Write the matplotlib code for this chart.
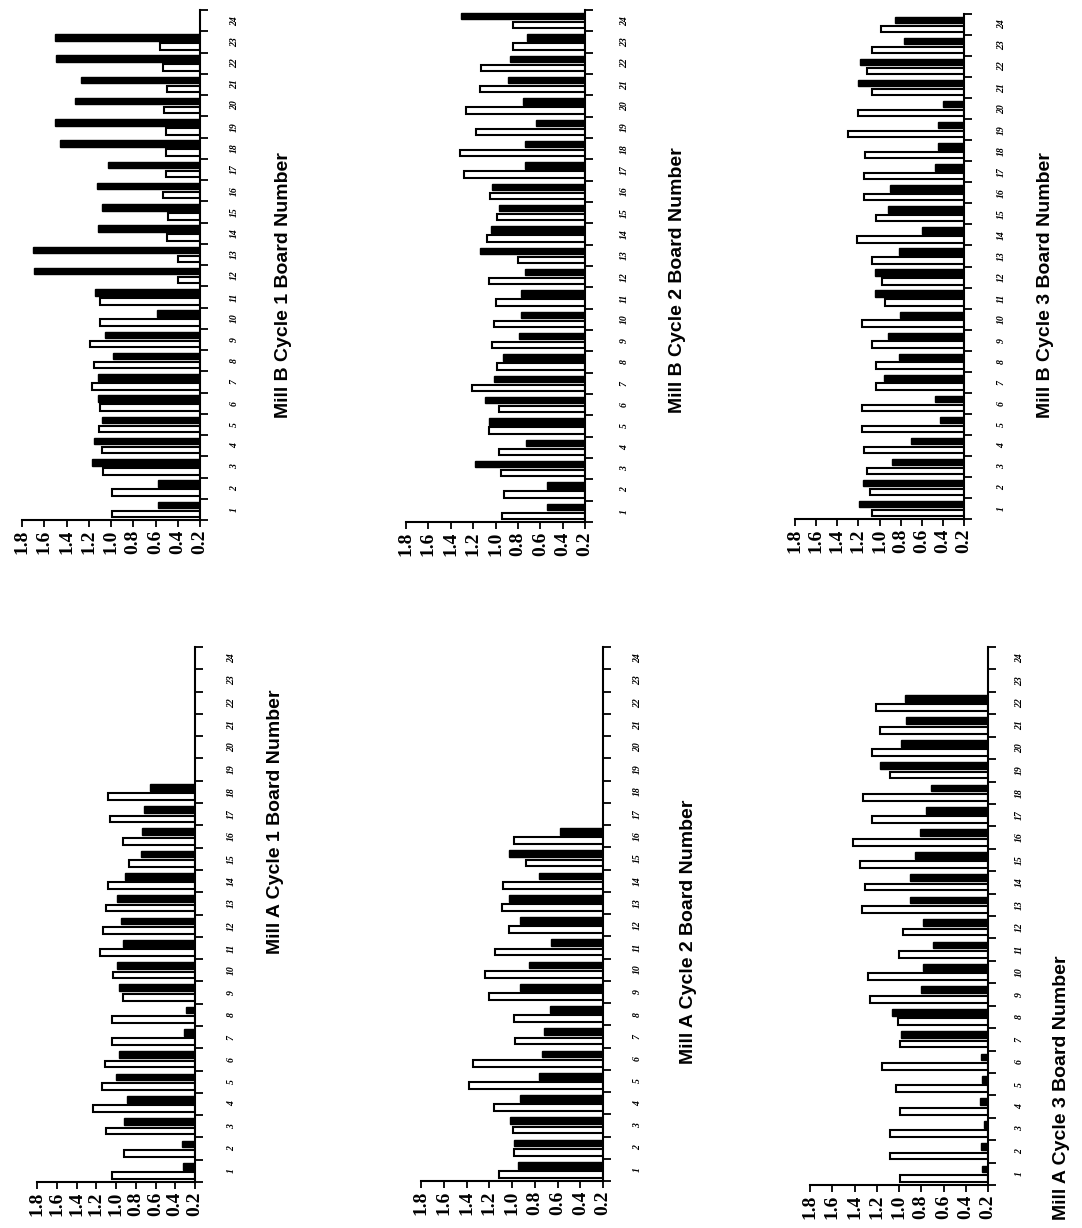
import numpy as np
import matplotlib
matplotlib.use("Agg")
import matplotlib.pyplot as plt

# board numbers on the category axis
boards = list(range(1, 25))
value_ticks = [1.8, 1.6, 1.4, 1.2, 1.0, 0.8, 0.6, 0.4, 0.2]

# values, board 1 first (white = first bar, black = second bar)
b1_white = [0.99, 0.99, 1.07, 1.08, 1.11, 1.10, 1.17, 1.15, 1.19, 1.10, 1.10, 0.40,
            0.40, 0.50, 0.49, 0.53, 0.51, 0.51, 0.51, 0.52, 0.50, 0.53, 0.56]
b1_black = [0.58, 0.58, 1.17, 1.15, 1.08, 1.12, 1.12, 0.98, 1.05, 0.59, 1.14, 1.69,
            1.70, 1.12, 1.08, 1.13, 1.03, 1.46, 1.50, 1.32, 1.27, 1.49, 1.50]

b2_white = [0.94, 0.92, 0.95, 0.97, 1.06, 0.97, 1.21, 0.99, 1.03, 1.01, 1.00, 1.06,
            0.80, 1.08, 0.99, 1.05, 1.28, 1.32, 1.17, 1.26, 1.14, 1.13, 0.84, 0.84]
b2_black = [0.54, 0.54, 1.18, 0.73, 1.06, 1.09, 1.01, 0.93, 0.79, 0.77, 0.77, 0.74,
            1.14, 1.04, 0.97, 1.03, 0.74, 0.74, 0.64, 0.75, 0.89, 0.87, 0.72, 1.31]

b3_white = [1.07, 1.09, 1.12, 1.15, 1.17, 1.17, 1.03, 1.03, 1.07, 1.17, 0.95, 0.98,
            1.07, 1.21, 1.03, 1.15, 1.15, 1.14, 1.30, 1.20, 1.07, 1.12, 1.07, 0.99]
b3_black = [1.19, 1.16, 0.88, 0.70, 0.43, 0.47, 0.96, 0.82, 0.92, 0.81, 1.04, 1.04,
            0.82, 0.60, 0.92, 0.90, 0.47, 0.45, 0.45, 0.40, 1.20, 1.18, 0.77, 0.85]

a1_white = [1.04, 0.92, 1.10, 1.23, 1.14, 1.11, 1.04, 1.04, 0.93, 1.03, 1.16, 1.13,
            1.10, 1.08, 0.87, 0.93, 1.06, 1.08]
a1_black = [0.32, 0.33, 0.92, 0.89, 1.00, 0.97, 0.31, 0.29, 0.97, 0.99, 0.93, 0.95,
            0.99, 0.91, 0.75, 0.74, 0.72, 0.66]

a2_white = [1.11, 0.98, 0.99, 1.16, 1.38, 1.34, 0.97, 0.98, 1.20, 1.24, 1.15, 1.03,
            1.09, 1.08, 0.88, 0.98]
a2_black = [0.95, 0.98, 1.02, 0.93, 0.76, 0.74, 0.72, 0.67, 0.93, 0.85, 0.66, 0.93,
            1.03, 0.76, 1.03, 0.58]

a3_white = [0.99, 1.08, 1.08, 0.99, 1.03, 1.15, 0.99, 1.01, 1.26, 1.28, 1.00, 0.96,
            1.33, 1.31, 1.35, 1.41, 1.24, 1.32, 1.08, 1.24, 1.17, 1.21]
a3_black = [0.25, 0.26, 0.24, 0.27, 0.25, 0.26, 0.98, 1.06, 0.80, 0.78, 0.69, 0.78,
            0.90, 0.90, 0.86, 0.81, 0.76, 0.71, 1.17, 0.98, 0.94, 0.95]

W, H = 1082, 1228

# layout in pixels: value axis left/right, board axis top/bottom, title centre, label column
panels = [
    ("Mill B Cycle 1 Board Number", b1_white, b1_black, (22, 200, 10, 520), (283, 285), 235),
    ("Mill A Cycle 1 Board Number", a1_white, a1_black, (37, 195, 647, 1182), (276, 822), 232),
    ("Mill B Cycle 2 Board Number", b2_white, b2_black, (406, 585, 10, 522), (678, 280), 625),
    ("Mill A Cycle 2 Board Number", a2_white, a2_black, (421, 603, 647, 1181), (688, 932), 638),
    ("Mill B Cycle 3 Board Number", b3_white, b3_black, (795, 964, 14, 519), (1045, 285), 1002),
    ("Mill A Cycle 3 Board Number", a3_white, a3_black, (810, 988, 647, 1185), (1062, 1088), 1020),
]

serif = ["Liberation Serif", "DejaVu Serif"]
narrow = ["Liberation Sans Narrow", "Liberation Sans", "DejaVu Sans"]

fig = plt.figure(figsize=(W / 100, H / 100), dpi=100)
fig.patch.set_facecolor("white")

for title, white, black, (l, r, t, b), (tx, ty), lab_x in panels:
    ax = fig.add_axes([l / W, 1 - b / H, (r - l) / W, (b - t) / H])
    n = len(white)
    pos = np.arange(1, n + 1)
    ax.barh(pos - 0.21, np.array(white) - 0.2, left=0.2, height=0.3,
            color="white", edgecolor="black", linewidth=1.5)
    ax.barh(pos + 0.21, np.array(black) - 0.2, left=0.2, height=0.3,
            color="black", edgecolor="black", linewidth=1.0)

    ax.set_xlim(1.8, 0.2)
    ax.set_ylim(0.5, 24.5)

    # value axis along the bottom
    ax.set_xticks(value_ticks)
    ax.set_xticklabels(["%.1f" % v for v in value_ticks], rotation=90,
                       fontsize=14, fontweight="bold", family=serif)
    ax.tick_params(axis="x", direction="out", length=5, width=1.3, pad=2)

    # board axis on the right
    ax.yaxis.tick_right()
    ax.set_yticks(boards)
    pad_pt = (lab_x - r - 5) / (100 / 72)
    ax.set_yticklabels([str(k) for k in boards], rotation=90, fontsize=7,
                       fontweight="bold", fontstyle="italic", family=serif,
                       va="center", ha="left")
    ax.tick_params(axis="y", which="major", length=0, pad=pad_pt)
    ax.set_yticks(np.arange(0.5, 25, 1.0), minor=True)
    ax.tick_params(axis="y", which="minor", direction="out", length=6, width=1.3, right=True, left=False)

    for side in ("top", "left"):
        ax.spines[side].set_visible(False)
    for side in ("bottom", "right"):
        ax.spines[side].set_linewidth(1.5)
        ax.spines[side].set_color("black")
    ax.set_facecolor("none")

    fig.text(tx / W, 1 - ty / H, title, rotation=90, ha="center", va="center",
             fontsize=14, fontweight="bold", family=narrow)

fig.savefig("out.png", dpi=100, facecolor="white")
